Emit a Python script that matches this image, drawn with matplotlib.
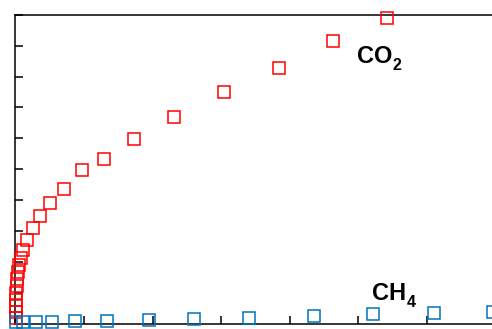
import numpy as np
import matplotlib
matplotlib.use('Agg')
import matplotlib.pyplot as plt

# values (x in tick units, y in tick units)
co2_x = [0.003, 0.007, 0.010, 0.010, 0.017, 0.025, 0.032, 0.039, 0.054, 0.076,
         0.112, 0.175, 0.254, 0.364, 0.506, 0.717, 0.968, 1.289, 1.735,
         2.318, 3.045, 3.840, 4.636, 5.414]
co2_y = [0.19, 0.39, 0.58, 0.78, 1.00, 1.23, 1.45, 1.68, 1.91, 2.13,
         2.39, 2.72, 3.09, 3.49, 3.92, 4.38, 4.99, 5.35, 5.97,
         6.69, 7.50, 8.29, 9.14, 9.90]

ch4_x = [0.01, 0.112, 0.30, 0.535, 0.87, 1.337, 1.95, 2.60, 3.41, 4.36, 5.22, 6.10, 6.96]
ch4_y = [0.065, 0.065, 0.065, 0.065, 0.097, 0.097, 0.13, 0.16, 0.19, 0.26, 0.32, 0.36, 0.39]

plt.rcParams['font.family'] = ['Liberation Sans', 'DejaVu Sans']

fig = plt.figure(figsize=(4.92, 3.29), dpi=100)
# axes run past the right edge of the figure, as in the cropped original
ax = fig.add_axes([15.3 / 492, 5 / 329, 8 * 68.6 / 492, 309.3 / 329])

ax.plot(co2_x, co2_y, 's', ms=9, mfc='none', mec='#ff0000', mew=1.1, clip_on=False, zorder=3)
ax.plot(ch4_x, ch4_y, 's', ms=9, mfc='none', mec='#0072bd', mew=1.1, clip_on=False, zorder=3)

ax.set_xlim(0, 8)
ax.set_ylim(0, 10)
ax.set_xticks(np.arange(0, 9, 1))
ax.set_yticks(np.arange(0, 11, 1))
ax.tick_params(direction='in', length=5.5, width=1.1, labelbottom=False, labelleft=False)
for s in ax.spines.values():
    s.set_linewidth(1.1)


def label(x, y, main, sub):
    t = ax.text(x, y, main, fontsize=17, fontweight='bold', va='baseline', ha='left')
    # subscript as its own text, dropped below the baseline
    ax.annotate(sub, xy=(1, 0), xycoords=t, xytext=(0.5, -3.5), textcoords='offset points',
                fontsize=11.5, fontweight='bold', va='bottom', ha='left')


label(4.977, 8.43, 'CO', '2')
label(5.195, 0.776, 'CH', '4')

fig.savefig('out.png', dpi=100)
plt.close('all')
